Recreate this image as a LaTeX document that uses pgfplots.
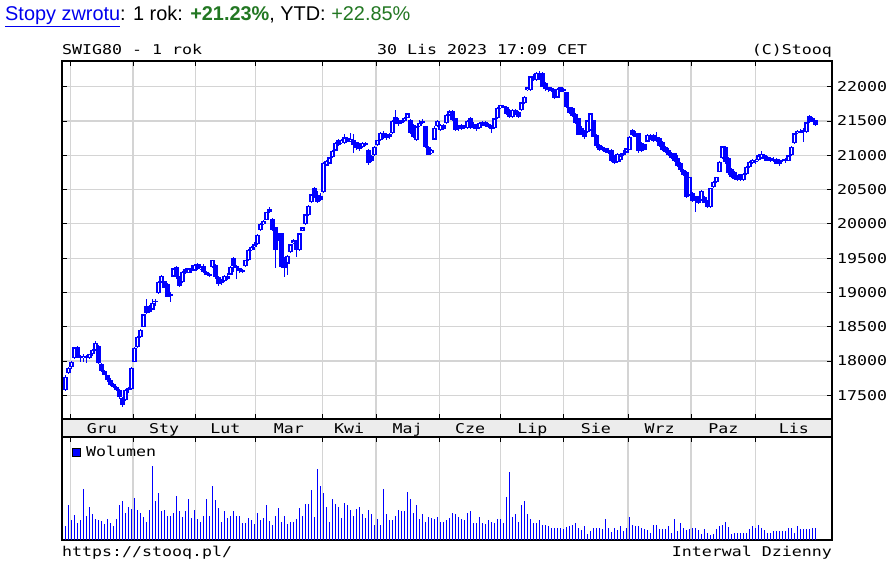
\documentclass[border=0pt]{standalone}
\usepackage{fontspec}
\setmainfont{Liberation Sans}
\setmonofont{DejaVu Sans Mono}[FakeStretch=1.23]
\usepackage{pgfplots}
\usepackage{pgfplotstable}
\pgfplotsset{compat=1.18}
\definecolor{sqblue}{RGB}{0,0,255}
\definecolor{sqgrid}{RGB}{212,212,212}
\definecolor{sqband}{RGB}{236,236,236}
\definecolor{sqgreen}{RGB}{34,119,34}
\definecolor{linkblue}{RGB}{0,0,238}
\newcommand\mono{\ttfamily\fontsize{13.5}{15}\selectfont}

% dzienne notowania: indeks sesji, open, high, low, close, wolumen (px)
\pgfplotstableread{
i o h l c v
0 17580 17790 17560 17770 14
1 17820 17920 17810 17900 35
2 17910 18000 17890 17990 20
3 18040 18210 18030 18200 25
4 18200 18220 18050 18070 17
5 18070 18090 17990 18040 20
6 18040 18100 17980 18080 51
7 18080 18090 17970 18050 24
8 18050 18110 18030 18100 33
9 18100 18170 18080 18160 26
10 18160 18290 18150 18260 21
11 18220 18230 17960 17970 20
12 17960 17970 17840 17850 19
13 17850 17870 17790 17800 16
14 17790 17800 17700 17720 21
15 17720 17760 17640 17650 17
16 17660 17680 17600 17620 14
17 17620 17640 17570 17580 21
18 17580 17590 17450 17470 35
19 17460 17470 17330 17360 39
20 17430 17590 17420 17580 27
21 17580 17620 17530 17600 33
22 17590 17910 17580 17900 31
23 17990 18200 17980 18190 42
24 18200 18360 18190 18350 30
25 18350 18460 18340 18450 27
26 18500 18690 18490 18680 23
27 18800 18910 18690 18700 18
28 18780 18820 18700 18720 30
29 18750 18900 18740 18850 74
30 18880 18900 18800 18860 39
31 18990 19160 18980 19150 47
32 19150 19250 19140 19240 29
33 19160 19170 19060 19070 30
34 19130 19140 18930 18940 24
35 18950 19000 18860 18980 24
36 19230 19360 19220 19350 27
37 19370 19380 19200 19220 44
38 19220 19240 19080 19100 29
39 19150 19310 19140 19300 23
40 19340 19360 19270 19280 29
41 19290 19360 19280 19350 41
42 19350 19400 19290 19310 22
43 19320 19420 19310 19400 30
44 19410 19430 19330 19340 21
45 19340 19420 19330 19380 18
46 19380 19410 19290 19300 24
47 19300 19320 19250 19260 41
48 19270 19290 19220 19240 24
49 19370 19480 19360 19470 54
50 19400 19420 19200 19220 40
51 19220 19240 19100 19120 32
52 19150 19190 19110 19160 18
53 19160 19260 19150 19240 29
54 19240 19280 19180 19200 22
55 19260 19380 19250 19370 24
56 19500 19510 19300 19380 29
57 19380 19400 19190 19350 24
58 19350 19360 19290 19310 24
59 19300 19340 19280 19330 17
60 19380 19480 19370 19470 17
61 19470 19630 19460 19620 22
62 19620 19680 19600 19660 20
63 19660 19730 19620 19700 16
64 19700 19850 19690 19840 27
65 19910 20010 19900 20000 20
66 20000 20060 19990 20040 22
67 20060 20180 20050 20170 35
68 20220 20240 20160 20170 19
69 20070 20080 19900 19910 15
70 19950 19960 19360 19620 24
71 19860 19870 19750 19770 32
72 19860 19870 19350 19370 18
73 19500 19510 19220 19360 24
74 19420 19540 19250 19530 16
75 19590 19710 19580 19700 18
76 19720 19780 19700 19760 18
77 19760 19770 19520 19620 21
78 19620 19870 19610 19860 32
79 19900 19960 19890 19950 24
80 20000 20150 19990 20140 36
81 20130 20270 20120 20260 36
82 20320 20440 20310 20430 50
83 20520 20540 20380 20400 23
84 20420 20480 20310 20320 71
85 20400 20450 20330 20350 54
86 20460 20900 20450 20890 47
87 20850 20930 20840 20920 33
88 20880 20980 20870 20970 18
89 20970 21080 20960 21070 41
90 21070 21190 21060 21180 36
91 21230 21240 21140 21150 33
92 21180 21240 21170 21220 22
93 21180 21310 21170 21260 37
94 21250 21270 21190 21200 35
95 21200 21320 21190 21240 30
96 21220 21310 21040 21150 24
97 21190 21200 21080 21100 31
98 21160 21180 21070 21090 33
99 21120 21190 21110 21180 26
100 21180 21200 21130 21150 22
101 21080 21090 20860 20890 30
102 20990 21000 20900 20920 26
103 21000 21130 20990 21120 15
104 21150 21230 21140 21220 21
105 21220 21340 21210 21330 15
106 21330 21350 21240 21260 51
107 21300 21330 21230 21250 26
108 21310 21330 21240 21260 20
109 21320 21510 21310 21500 20
110 21560 21660 21450 21470 24
111 21520 21540 21430 21450 30
112 21490 21520 21460 21480 29
113 21500 21560 21490 21550 29
114 21550 21620 21540 21610 48
115 21520 21530 21310 21330 41
116 21440 21450 21250 21260 27
117 21220 21430 21210 21420 35
118 21420 21520 21410 21470 21
119 21480 21530 21460 21500 26
120 21420 21430 21100 21120 18
121 21120 21140 21000 21010 23
122 21030 21090 21020 21080 22
123 21230 21420 21220 21400 21
124 21420 21510 21410 21500 23
125 21370 21450 21360 21440 18
126 21440 21460 21370 21380 18
127 21470 21600 21460 21590 20
128 21590 21660 21580 21640 22
129 21640 21660 21500 21510 27
130 21540 21550 21360 21370 26
131 21420 21440 21360 21380 23
132 21440 21450 21370 21390 21
133 21420 21440 21380 21400 20
134 21400 21520 21390 21500 27
135 21540 21560 21380 21400 29
136 21460 21480 21390 21410 17
137 21410 21450 21360 21380 17
138 21400 21490 21390 21470 23
139 21480 21500 21420 21440 17
140 21480 21500 21410 21420 16
141 21460 21470 21400 21410 20
142 21420 21440 21320 21390 18
143 21400 21550 21390 21540 17
144 21540 21700 21530 21690 21
145 21690 21740 21680 21730 21
146 21720 21740 21690 21700 17
147 21710 21720 21590 21600 43
148 21660 21670 21540 21560 68
149 21560 21680 21550 21660 23
150 21660 21670 21590 21600 26
151 21630 21640 21540 21560 18
152 21660 21780 21650 21770 35
153 21760 21860 21750 21850 39
154 21950 22000 21940 21990 26
155 21950 22160 21940 22150 21
156 22150 22180 22090 22110 17
157 22100 22210 22090 22200 17
158 22190 22230 22100 22130 20
159 22200 22220 21990 22000 15
160 22060 22070 21940 21960 15
161 21990 22000 21930 21950 14
162 21980 21990 21920 21940 12
163 21950 21960 21820 21840 12
164 21840 21980 21830 21970 12
165 21990 22000 21920 21930 12
166 21960 21980 21920 21940 11
167 21920 21930 21690 21700 13
168 21700 21710 21600 21620 14
169 21690 21700 21560 21580 15
170 21600 21610 21460 21470 17
171 21540 21550 21290 21300 12
172 21400 21420 21290 21300 10
173 21350 21370 21240 21260 14
174 21340 21520 21330 21510 6
175 21370 21620 21360 21610 9
176 21510 21520 21260 21270 12
177 21300 21310 21110 21130 12
178 21150 21160 21060 21080 12
179 21120 21140 21060 21070 11
180 21100 21110 21030 21050 21
181 21080 21100 21020 21040 12
182 21080 21090 20900 20920 8
183 21000 21010 20880 20890 12
184 20900 21030 20890 21020 10
185 20930 21040 20900 21000 14
186 21040 21080 20990 21000 9
187 21040 21110 21030 21100 12
188 21080 21280 21070 21270 23
189 21370 21380 21280 21290 15
190 21330 21360 21260 21270 14
191 21320 21330 21040 21060 14
192 21180 21190 21050 21070 12
193 21160 21170 21070 21080 11
194 21200 21310 21190 21300 10
195 21300 21310 21220 21230 7
196 21300 21310 21200 21210 15
197 21260 21340 21200 21220 15
198 21250 21260 21120 21130 11
199 21200 21210 21060 21070 11
200 21120 21130 21040 21050 11
201 21080 21100 20990 21000 14
202 21040 21050 20950 20960 7
203 21030 21040 20900 20920 21
204 20960 21010 20830 20840 9
205 20890 20900 20760 20780 17
206 20790 20800 20700 20710 12
207 20760 20770 20380 20390 10
208 20420 20690 20410 20680 11
209 20450 20460 20320 20330 12
210 20400 20410 20170 20340 12
211 20390 20400 20290 20300 10
212 20350 20500 20340 20480 6
213 20390 20400 20300 20310 11
214 20340 20350 20230 20250 7
215 20240 20530 20230 20520 5
216 20540 20620 20530 20610 6
217 20610 20690 20600 20680 11
218 20760 20910 20750 20900 14
219 20960 21140 20950 21130 15
220 21120 21130 20880 20900 18
221 20960 20970 20720 20740 13
222 20800 20810 20670 20680 6
223 20760 20770 20640 20650 7
224 20710 20720 20630 20640 7
225 20720 20730 20630 20640 7
226 20640 20740 20630 20730 7
227 20730 20840 20720 20830 7
228 20830 20910 20820 20900 11
229 20890 20940 20880 20930 14
230 20900 20950 20870 20920 12
231 20930 21020 20920 21000 15
232 20950 21060 20940 21020 12
233 21000 21020 20920 20940 10
234 20980 20990 20910 20920 7
235 20960 20980 20900 20930 7
236 20950 20970 20900 20910 9
237 20950 20960 20870 20880 9
238 20920 20940 20850 20870 9
239 20930 20950 20900 20920 9
240 20950 20960 20890 20910 9
241 20920 21010 20910 21000 12
242 21000 21130 20990 21120 12
243 21180 21330 21170 21320 7
244 21320 21370 21310 21360 14
245 21340 21380 21320 21350 11
246 21350 21400 21190 21370 11
247 21340 21490 21330 21480 11
248 21570 21590 21470 21490 11
249 21540 21560 21480 21500 12
250 21510 21520 21430 21440 12
}\swig

\begin{document}
\begin{tikzpicture}
\path[use as bounding box] (0pt,0pt) rectangle (893pt,564pt);

% pasek z nazwami miesiecy
\fill[sqband] (62pt,127pt) rectangle (832pt,145pt);

% wykres swiecowy
\begin{axis}[
    at={(62pt,145pt)}, anchor=south west,
    scale only axis, width=770pt, height=358pt,
    xmin=-1.1667, xmax=255.5, ymin=17155, ymax=22375,
    axis line style={line width=1.2pt},
    tick align=inside, major tick length=5pt,
    tick style={black, line width=1pt},
    xtick={1.73,22.5,43.2,63.3,85.6,103.5,124.6,145.1,166.1,187.5,208.5,230.0,255.5},
    x tick label as interval,
    xticklabels={Gru,Sty,Lut,Mar,Kwi,Maj,Cze,Lip,Sie,Wrz,Paz,Lis},
    xticklabel style={font=\mono, anchor=base, yshift=-15pt},
    xtick pos=both,
    ytick={17500,18000,18500,19000,19500,20000,20500,21000,21500,22000},
    yticklabels={17500,18000,18500,19000,19500,20000,20500,21000,21500,22000},
    scaled y ticks=false,
    yticklabel pos=right, ytick pos=both,
    yticklabel style={font=\mono, xshift=1.5pt},
    grid=major, major grid style={sqgrid, line width=1.2pt},
]
% knoty
\addplot[draw=none, mark=none,
    error bars/.cd, y dir=both, y explicit, error mark=none,
    error bar style={draw=sqblue, line width=1.3pt}]
    table[x=i, y expr=(\thisrow{h}+\thisrow{l})/2, y error expr=(\thisrow{h}-\thisrow{l})/2]{\swig};
% korpusy
\addplot[draw=none, mark=none,
    error bars/.cd, y dir=both, y explicit, error mark=none,
    error bar style={draw=sqblue, line width=4.3pt}]
    table[x=i, y expr=(\thisrow{o}+\thisrow{c})/2, y error expr={max(abs(\thisrow{c}-\thisrow{o})/2,9)}]{\swig};
% puste wnetrza swiec wzrostowych
\addplot[draw=none, mark=none,
    restrict expr to domain={\thisrow{c}-\thisrow{o}}{40:100000},
    error bars/.cd, y dir=both, y explicit, error mark=none,
    error bar style={draw=white, line width=1.7pt}]
    table[x=i, y expr=(\thisrow{o}+\thisrow{c})/2, y error expr=(\thisrow{c}-\thisrow{o})/2-18]{\swig};
\end{axis}

% wolumen
\begin{axis}[
    at={(62pt,24pt)}, anchor=south west,
    scale only axis, width=770pt, height=103pt,
    xmin=-1.1667, xmax=255.5, ymin=0, ymax=103,
    axis line style={line width=1.2pt},
    tick align=inside, major tick length=5pt,
    tick style={black, line width=1pt},
    xtick={1.73,22.5,43.2,63.3,85.6,103.5,124.6,145.1,166.1,187.5,208.5,230.0},
    xticklabels={}, xtick pos=right,
    ytick=\empty,
    xmajorgrids, major grid style={sqgrid, line width=1.2pt},
]
\addplot[ycomb, draw=sqblue, line width=1.5pt, mark=none] table[x=i, y=v]{\swig};
\end{axis}

\draw[line width=1.2pt] (62pt,127pt) rectangle (832pt,145pt);

% legenda wolumenu
\draw[fill=sqblue, line width=0.8pt] (72pt,107.5pt) rectangle (80.5pt,115.5pt);
\node[anchor=base west, inner sep=0pt, font=\mono] at (86pt,107pt) {Wolumen};

% naglowek i stopka
\node[anchor=base west, inner sep=0pt, font=\fontsize{19.9}{22}\selectfont] at (5pt,543pt)
  {\textcolor{linkblue}{\underline{Stopy zwrotu}}: 1 rok: \textcolor{sqgreen}{\textbf{+21.23\%}}, YTD: \textcolor{sqgreen}{+22.85\%}};
\node[anchor=base west, inner sep=0pt, font=\mono] at (62pt,509pt) {SWIG80 - 1 rok};
\node[anchor=base west, inner sep=0pt, font=\mono] at (377pt,509pt) {30 Lis 2023 17:09 CET};
\node[anchor=base east, inner sep=0pt, font=\mono] at (832pt,509pt) {(C)Stooq};
\node[anchor=base west, inner sep=0pt, font=\mono] at (62pt,7pt) {https://stooq.pl/};
\node[anchor=base east, inner sep=0pt, font=\mono] at (832pt,7pt) {Interwal Dzienny};
\end{tikzpicture}
\end{document}
